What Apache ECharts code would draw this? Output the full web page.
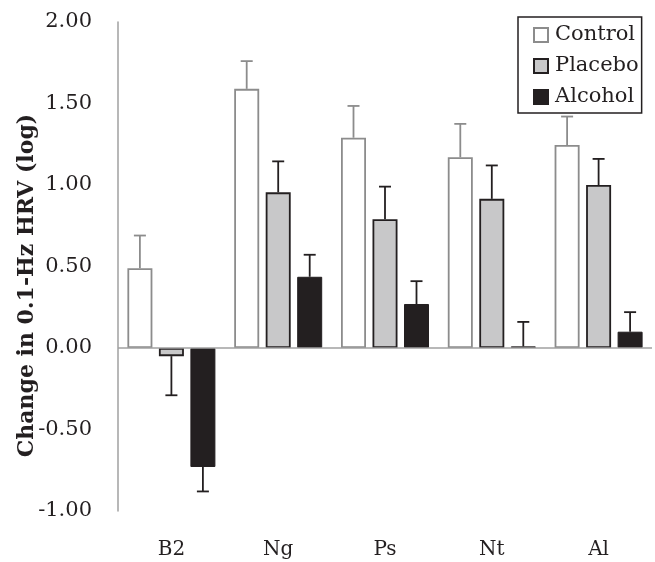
<!DOCTYPE html>
<html>
<head>
<meta charset="utf-8">
<script src="https://cdn.jsdelivr.net/npm/echarts@6/dist/echarts.min.js"></script>
<style>html,body{margin:0;padding:0;background:#fff;}#c{width:655px;height:562px;}</style>
</head>
<body>
<div id="c"></div>
<script>
const categories = ['B2', 'Ng', 'Ps', 'Nt', 'Al'];
const control = [0.49, 1.59, 1.29, 1.17, 1.245];
const placebo = [-0.05, 0.955, 0.79, 0.915, 1.0];
const alcohol = [-0.73, 0.437, 0.27, 0.01, 0.10];
const controlErr = [0.20, 0.17, 0.195, 0.205, 0.175];
const placeboErr = [0.24, 0.19, 0.20, 0.205, 0.16];
const alcoholErr = [0.15, 0.135, 0.14, 0.15, 0.12];
const yTicks = { min: -1, max: 2, interval: 0.5 };

const DARK = '#231f20';
const GRAY = '#8c8c8c';
const FONT = 'DejaVu Serif';
const BAR_W = 25;
const STEP = 31.5;

function errSeries(name, vals, errs, offset, color) {
  return {
    type: 'custom',
    name: name + ' err',
    silent: true,
    z: 5,
    data: vals.map((v, i) => [i, v, errs[i]]),
    renderItem: function (params, api) {
      const i = api.value(0), v = api.value(1), e = api.value(2);
      const dir = v >= 0 ? 1 : -1;
      const p0 = api.coord([i, v]);
      const p1 = api.coord([i, v + dir * e]);
      const x = p0[0] + offset;
      const cap = 6;
      const st = { stroke: color, lineWidth: 1.8 };
      return {
        type: 'group',
        children: [
          { type: 'line', shape: { x1: x, y1: p0[1], x2: x, y2: p1[1] }, style: st },
          { type: 'line', shape: { x1: x - cap, y1: p1[1], x2: x + cap, y2: p1[1] }, style: st }
        ]
      };
    }
  };
}

const chart = echarts.init(document.getElementById('c'));
chart.setOption({
  animation: false,
  backgroundColor: '#fff',
  grid: { left: 118, right: 3, top: 22, bottom: 51, outerBoundsMode: 'none', containLabel: false },
  legend: {
    data: ['Control', 'Placebo', 'Alcohol'],
    orient: 'vertical',
    left: 518, top: 17,
    padding: [7, 3, 5, 15],
    itemGap: 9,
    itemWidth: 14, itemHeight: 14,
    icon: 'rect',
    borderColor: DARK, borderWidth: 1.5,
    textStyle: { fontFamily: FONT, fontSize: 21, color: DARK, lineHeight: 22, padding: [0, 0, 0, 2] }
  },
  xAxis: {
    type: 'category',
    data: categories,
    axisLine: { show: false, onZero: false },
    axisTick: { show: false },
    axisLabel: { fontFamily: FONT, fontSize: 20, color: DARK, margin: 29 }
  },
  yAxis: {
    type: 'value',
    min: yTicks.min, max: yTicks.max, interval: yTicks.interval,
    name: 'Change in 0.1-Hz HRV (log)',
    nameLocation: 'middle',
    nameGap: 80,
    nameMoveOverlap: false,
    nameTextStyle: { fontFamily: FONT, fontSize: 22, fontWeight: 'bold', color: DARK, padding: [0, 38, 0, 0] },
    axisLine: { show: true, lineStyle: { color: '#a0a0a0', width: 1.5 } },
    axisTick: { show: false },
    splitLine: { show: false },
    axisLabel: { fontFamily: FONT, fontSize: 21, color: DARK, margin: 26, formatter: v => v.toFixed(2) }
  },
  series: [
    {
      type: 'bar', name: 'Control', data: control, barWidth: BAR_W, barGap: '26%',
      itemStyle: { color: '#ffffff', borderColor: GRAY, borderWidth: 1.8 },
      markLine: {
        silent: true, symbol: 'none', label: { show: false },
        lineStyle: { color: '#a0a0a0', width: 1.5, type: 'solid' },
        data: [{ yAxis: 0 }]
      }
    },
    {
      type: 'bar', name: 'Placebo', data: placebo, barWidth: BAR_W, barGap: '26%',
      itemStyle: { color: '#c8c8c9', borderColor: DARK, borderWidth: 1.8 }
    },
    {
      type: 'bar', name: 'Alcohol', data: alcohol, barWidth: BAR_W, barGap: '26%',
      itemStyle: { color: DARK, borderColor: DARK, borderWidth: 1 }
    },
    errSeries('Control', control, controlErr, -STEP, GRAY),
    errSeries('Placebo', placebo, placeboErr, 0, DARK),
    errSeries('Alcohol', alcohol, alcoholErr, STEP, DARK)
  ]
});
</script>
</body>
</html>
